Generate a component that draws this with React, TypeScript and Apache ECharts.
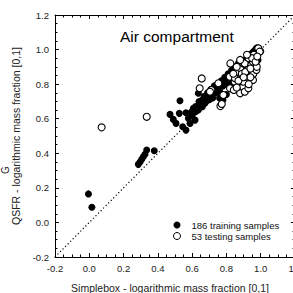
import React, { useEffect, useRef } from "react";
import * as echarts from "echarts";

const xTicks = [-0.2, 0.0, 0.2, 0.4, 0.6, 0.8, 1.0, 1.2];
const trainingX = [
  -0.005, 0.015, 0.286, 0.296, 0.306, 0.315, 0.325, 0.335, 0.379,
  0.471, 0.49, 0.506, 0.545, 0.525, 0.564, 0.578, 0.597, 0.607, 0.636, 0.656, 0.675, 0.529, 0.636, 0.617, 0.588, 0.564,
  0.60, 0.62, 0.63, 0.64, 0.65, 0.66, 0.67, 0.68, 0.69, 0.70, 0.70, 0.71, 0.72, 0.72, 0.73, 0.74, 0.74, 0.75, 0.76, 0.76,
  0.77, 0.78, 0.78, 0.79, 0.80, 0.80, 0.81, 0.82, 0.82, 0.83, 0.84, 0.84, 0.85, 0.86, 0.86, 0.87, 0.88, 0.88, 0.89, 0.90,
  0.90, 0.91, 0.92, 0.92, 0.93, 0.94, 0.94, 0.95, 0.96, 0.96, 0.97, 0.98, 0.98, 0.99, 1.00, 0.97, 0.95, 0.93, 0.91, 0.89,
  0.87, 0.85, 0.83, 0.81, 0.79, 0.77, 0.75, 0.73, 0.71, 0.69, 0.67, 0.66, 0.64, 0.62, 0.61,
  0.76, 0.78, 0.80, 0.83, 0.86, 0.975, 0.984, 0.878, 0.897, 0.936,
];
const trainingY = [
  0.165, 0.088, 0.336, 0.35, 0.365, 0.38, 0.394, 0.419, 0.415,
  0.625, 0.596, 0.573, 0.554, 0.631, 0.635, 0.602, 0.64, 0.66, 0.65, 0.68, 0.689, 0.704, 0.747, 0.592, 0.573, 0.534,
  0.62, 0.64, 0.67, 0.66, 0.69, 0.67, 0.71, 0.70, 0.72, 0.71, 0.74, 0.73, 0.75, 0.72, 0.76, 0.75, 0.78, 0.77, 0.79, 0.76,
  0.80, 0.79, 0.82, 0.81, 0.83, 0.80, 0.84, 0.82, 0.86, 0.84, 0.87, 0.85, 0.88, 0.86, 0.89, 0.90, 0.88, 0.91, 0.92, 0.90,
  0.93, 0.94, 0.92, 0.95, 0.96, 0.94, 0.97, 0.98, 0.96, 0.99, 1.00, 0.99, 1.01, 1.00, 0.99, 0.95, 0.93, 0.91, 0.89, 0.87,
  0.92, 0.90, 0.88, 0.86, 0.84, 0.82, 0.80, 0.79, 0.77, 0.75, 0.73, 0.71, 0.70, 0.67, 0.65,
  0.72, 0.71, 0.74, 0.79, 0.81, 1.007, 0.939, 0.92, 0.872, 0.843,
];
const testingX = [
  0.072, 0.335, 0.656, 0.644, 0.712, 0.704, 0.753, 0.765, 0.773, 0.782,
  0.823, 0.819, 0.821, 0.843, 0.848, 0.85, 0.868, 0.88, 0.88, 0.897, 0.897, 0.899, 0.899, 0.907, 0.907, 0.916, 0.928,
  0.945, 0.955, 0.955, 0.957, 0.975, 0.977, 0.986, 0.994,
  0.96, 0.93, 0.92, 0.94, 0.87, 0.86, 0.89, 0.91, 0.93, 0.95, 0.97, 0.84, 0.98, 0.88, 0.92, 0.94, 0.86, 0.90,
];
const testingY = [
  0.55, 0.611, 0.833, 0.776, 0.766, 0.756, 0.805, 0.673, 0.685, 0.737,
  0.92, 0.843, 0.776, 0.766, 0.814, 0.834, 0.872, 0.892, 0.747, 0.805, 0.785, 0.92, 0.814, 0.756, 0.92, 0.843, 0.776,
  0.91, 0.824, 0.93, 0.86, 0.882, 0.9, 1.007, 0.988,
  0.97, 0.95, 0.88, 0.84, 0.82, 0.78, 0.86, 0.87, 0.8, 0.95, 0.93, 0.86, 0.96, 0.94, 0.97, 0.89, 0.90, 0.84,
];
const diagonal = [-0.2, 1.2];
const trainingLabel = "186 training samples";
const testingLabel = "53 testing samples";
const titleText = "Air compartment";
const xTitle = "Simplebox - logarithmic mass fraction [0,1]";
const yTitle = "QSFR - logarithmic mass fraction [0,1]";

const FONT = "'Liberation Sans', Arial, sans-serif";

export default function App() {
  const ref = useRef<HTMLDivElement>(null);
  useEffect(() => {
    if (!ref.current) return;
    const chart = echarts.init(ref.current, undefined, { renderer: "svg" });
    const axisCommon = (show: boolean) => ({
      type: "value" as const,
      min: xTicks[0],
      max: xTicks[xTicks.length - 1],
      interval: 0.2,
      axisLine: { show: true, onZero: false, lineStyle: { color: "#000", width: 1 } },
      axisTick: { show: true, inside: true, length: 4, lineStyle: { color: "#000", width: 1 } },
      minorTick: { show: true, splitNumber: 4, length: 2.5, lineStyle: { color: "#000", width: 1 } },
      splitLine: { show: false },
      axisLabel: {
        show,
        fontFamily: FONT,
        fontSize: 9.5,
        color: "#222",
        margin: 6,
        hideOverlap: false,
        showMinLabel: true,
        showMaxLabel: true,
        formatter: (v: number) => v.toFixed(1),
      },
    });
    chart.setOption({
      animation: false,
      backgroundColor: "#fff",
      grid: { left: 55, top: 15, width: 240, height: 242, outerBoundsMode: "none", containLabel: false },
      xAxis: [
        { ...axisCommon(true), position: "bottom" },
        { ...axisCommon(false), position: "top" },
      ],
      yAxis: [
        { ...axisCommon(true), position: "left" },
        { ...axisCommon(false), position: "right" },
      ],
      legend: {
        orient: "vertical",
        left: 168,
        top: 215,
        itemWidth: 7,
        itemHeight: 7,
        itemGap: 1,
        textStyle: { fontFamily: FONT, fontSize: 9.5, color: "#111", padding: [0, 0, 0, 6] },
        data: [
          { name: trainingLabel, icon: "circle", itemStyle: { color: "#000" } },
          { name: testingLabel, icon: "circle", itemStyle: { color: "#fff", borderColor: "#000", borderWidth: 1 } },
        ],
      },
      graphic: [
        {
          type: "text",
          left: 120,
          top: 28,
          style: { text: titleText, font: `15.5px ${FONT}`, fill: "#000" },
        },
        {
          type: "text",
          x: 170,
          y: 288,
          style: {
            text: xTitle,
            font: `10.5px ${FONT}`,
            fill: "#222",
            textAlign: "center",
            textVerticalAlign: "middle",
          },
        },
        {
          type: "text",
          x: 16,
          y: 136,
          rotation: Math.PI / 2,
          style: {
            text: yTitle,
            font: `10.5px ${FONT}`,
            fill: "#222",
            textAlign: "center",
            textVerticalAlign: "middle",
          },
        },
        {
          type: "text",
          x: 5,
          y: 170,
          rotation: Math.PI / 2,
          style: {
            text: "G",
            font: `10px ${FONT}`,
            fill: "#222",
            textAlign: "center",
            textVerticalAlign: "middle",
          },
        },
      ],
      series: [
        {
          type: "line",
          data: [
            [diagonal[0], diagonal[0]],
            [diagonal[1], diagonal[1]],
          ],
          symbol: "none",
          lineStyle: { color: "#000", width: 1.2, type: [1.2, 2.4] },
          silent: true,
          z: 1,
        },
        {
          name: trainingLabel,
          type: "scatter",
          symbol: "circle",
          symbolSize: 7,
          data: trainingX.map((x, i) => [x, trainingY[i]]),
          itemStyle: { color: "#000", opacity: 1 },
          z: 2,
        },
        {
          name: testingLabel,
          type: "scatter",
          symbol: "circle",
          symbolSize: 7,
          data: testingX.map((x, i) => [x, testingY[i]]),
          itemStyle: { color: "#fff", borderColor: "#000", borderWidth: 1.1, opacity: 1 },
          z: 3,
        },
      ],
    });
    return () => chart.dispose();
  }, []);
  return <div ref={ref} style={{ width: 293, height: 293, position: "absolute", left: 0, top: 0 }} />;
}
